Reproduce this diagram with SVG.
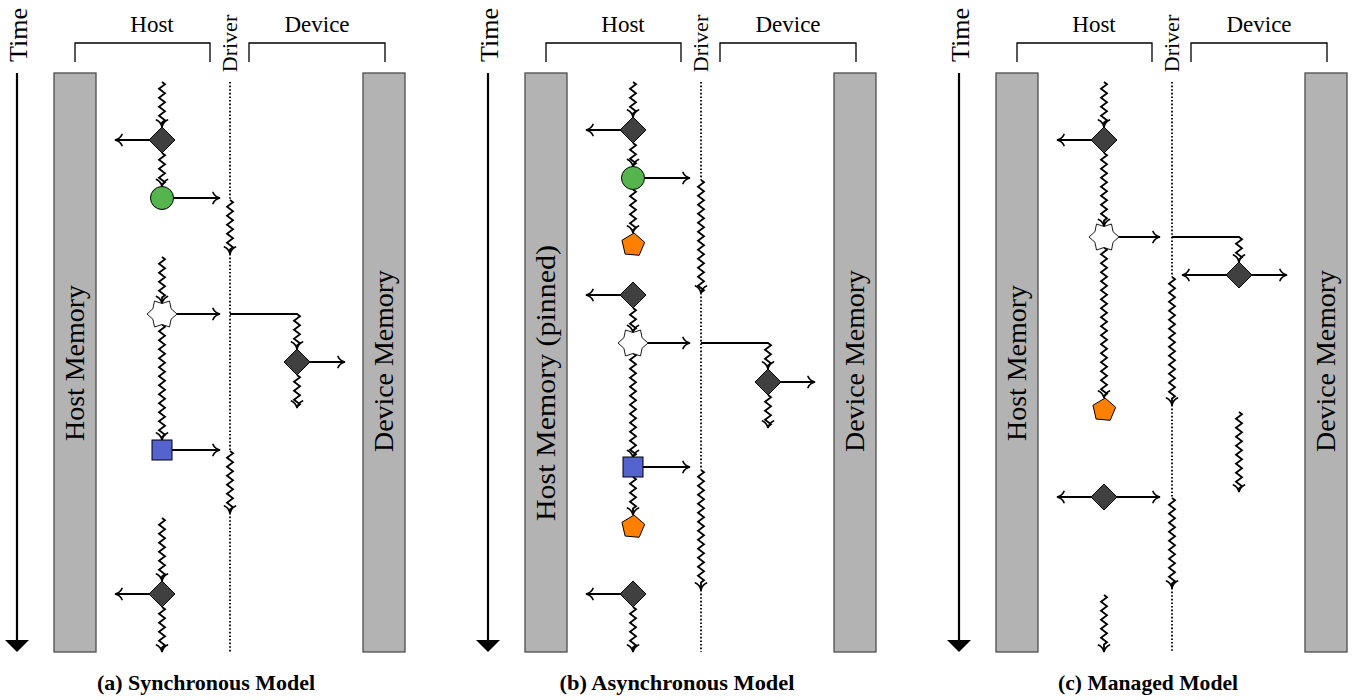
<svg xmlns="http://www.w3.org/2000/svg" xmlns:xlink="http://www.w3.org/1999/xlink" width="1355" height="700" viewBox="0 0 1355 700">
  <style>
    .lbl { font-family: "Liberation Serif", "Times New Roman", serif; fill: #000; }
    .cap { font-family: "Liberation Serif", "Times New Roman", serif; font-weight: bold; font-size: 21px; text-anchor: middle; fill: #000; }
    .mem { fill: #b3b3b3; stroke: #4d4d4d; stroke-width: 1.3; }
    .memtxt { font-size: 27px; text-anchor: middle; }
    .brk { fill: none; stroke: #000; stroke-width: 1.3; }
    .drv { fill: none; stroke: #000; stroke-width: 1.8; stroke-dasharray: 1.6 2; }
    .ar { fill: none; stroke: #000; stroke-width: 1.9; marker-end: url(#to); }
    .wv { fill: none; stroke: #000; stroke-width: 1.8; stroke-linejoin: miter; marker-end: url(#to); }
    .time { fill: none; stroke: #000; stroke-width: 2.2; }
  </style>
  <defs>
    <marker id="to" viewBox="-9 -8 11 16" refX="0" refY="0" markerWidth="11" markerHeight="16" markerUnits="userSpaceOnUse" orient="auto">
      <path d="M-7,-5.5 C-5.5,-2 -2.2,-0.5 0,0 C-2.2,0.5 -5.5,2 -7,5.5" fill="none" stroke="#000" stroke-width="1.7" stroke-linecap="round"/>
    </marker>
    <polygon id="dia" points="0,-13 13,0 0,13 -13,0" fill="#404040" stroke="#000" stroke-width="1"/>
    <polygon id="star" points="15,0 9.09,5.25 7.5,12.99 0,10.5 -7.5,12.99 -9.09,5.25 -15,0 -9.09,-5.25 -7.5,-12.99 0,-10.5 7.5,-12.99 9.09,-5.25" fill="#fff" stroke="#000" stroke-width="0.9"/>
    <polygon id="pent" points="1.05,-11.95 11.69,-2.7 6.18,10.29 -7.87,9.06 -11.05,-4.69" fill="#ff7f00" stroke="#000" stroke-width="1"/>
    <circle id="circ" r="11.5" fill="#55b44e" stroke="#000" stroke-width="1"/>
    <rect id="sq" x="-10" y="-10" width="20" height="20" fill="#5563cf" stroke="#000" stroke-width="1"/>
  </defs>

  <rect width="1355" height="700" fill="#fff"/>

  <!-- ===== frame: time axis, brackets, driver lanes ===== -->
  <g id="frame-a">
    <line class="time" x1="17" y1="73" x2="17" y2="641"/>
    <polygon points="5,640 29,640 17,652" fill="#000"/>
    <text class="lbl" font-size="26" text-anchor="middle" transform="translate(27,35) rotate(-90)">Time</text>
    <path class="brk" d="M75,62 V43 H210 V62"/>
    <path class="brk" d="M249,62 V43 H385 V62"/>
    <text class="lbl" font-size="23" x="152" y="32" text-anchor="middle">Host</text>
    <text class="lbl" font-size="23" x="317" y="32" text-anchor="middle">Device</text>
    <text class="lbl" font-size="22" text-anchor="middle" transform="translate(237,43.5) rotate(-90)">Driver</text>
    <path class="drv" d="M230,82 V200 M230,254 V451 M230,513 V652"/>
  </g>
  <g id="frame-b">
    <line class="time" x1="488" y1="73" x2="488" y2="641"/>
    <polygon points="476,640 500,640 488,652" fill="#000"/>
    <text class="lbl" font-size="26" text-anchor="middle" transform="translate(498,35) rotate(-90)">Time</text>
    <path class="brk" d="M546,62 V43 H681 V62"/>
    <path class="brk" d="M720,62 V43 H856 V62"/>
    <text class="lbl" font-size="23" x="623" y="32" text-anchor="middle">Host</text>
    <text class="lbl" font-size="23" x="788" y="32" text-anchor="middle">Device</text>
    <text class="lbl" font-size="22" text-anchor="middle" transform="translate(708,43.5) rotate(-90)">Driver</text>
    <path class="drv" d="M701,82 V180 M701,293 V470 M701,590 V652"/>
  </g>
  <g id="frame-c">
    <line class="time" x1="959" y1="73" x2="959" y2="641"/>
    <polygon points="947,640 971,640 959,652" fill="#000"/>
    <text class="lbl" font-size="26" text-anchor="middle" transform="translate(969,35) rotate(-90)">Time</text>
    <path class="brk" d="M1017,62 V43 H1152 V62"/>
    <path class="brk" d="M1191,62 V43 H1327 V62"/>
    <text class="lbl" font-size="23" x="1094" y="32" text-anchor="middle">Host</text>
    <text class="lbl" font-size="23" x="1259" y="32" text-anchor="middle">Device</text>
    <text class="lbl" font-size="22" text-anchor="middle" transform="translate(1179,43.5) rotate(-90)">Driver</text>
    <path class="drv" d="M1172,82 V277 M1172,405 V498 M1172,588 V652"/>
  </g>

  <!-- ===== memory nodes ===== -->
  <g id="host-mem-a">
    <rect class="mem" x="54" y="73" width="42" height="579"/>
    <text class="lbl memtxt" textLength="156" lengthAdjust="spacingAndGlyphs" transform="translate(84,363) rotate(-90)">Host Memory</text>
  </g>
  <g id="dev-mem-a">
    <rect class="mem" x="363" y="73" width="42" height="579"/>
    <text class="lbl memtxt" textLength="182" lengthAdjust="spacingAndGlyphs" transform="translate(393,361) rotate(-90)">Device Memory</text>
  </g>
  <g id="host-mem-b">
    <rect class="mem" x="525" y="73" width="42" height="579"/>
    <text class="lbl memtxt" textLength="276" lengthAdjust="spacingAndGlyphs" transform="translate(555,383) rotate(-90)">Host Memory (pinned)</text>
  </g>
  <g id="dev-mem-b">
    <rect class="mem" x="834" y="73" width="42" height="579"/>
    <text class="lbl memtxt" textLength="182" lengthAdjust="spacingAndGlyphs" transform="translate(864,361) rotate(-90)">Device Memory</text>
  </g>
  <g id="host-mem-c">
    <rect class="mem" x="996" y="73" width="42" height="579"/>
    <text class="lbl memtxt" textLength="156" lengthAdjust="spacingAndGlyphs" transform="translate(1026,363) rotate(-90)">Host Memory</text>
  </g>
  <g id="dev-mem-c">
    <rect class="mem" x="1305" y="73" width="42" height="579"/>
    <text class="lbl memtxt" textLength="182" lengthAdjust="spacingAndGlyphs" transform="translate(1335,361) rotate(-90)">Device Memory</text>
  </g>

  <!-- ===== connectors: calls (straight) and execution threads (zigzag) ===== -->
  <g id="connectors">
    <!-- synchronous -->
    <path class="ar" d="M149,140 H115"/>
    <path class="ar" d="M173.5,198 H220"/>
    <path class="ar" d="M177,314 H220"/>
    <path class="ar" d="M310,362 H345"/>
    <path class="ar" d="M172,450 H220"/>
    <path class="ar" d="M149,594 H115"/>
    <path class="wv" d="M162,82 l3,2.25 -6,4.5 6,4.5 -6,4.5 6,4.5 -6,4.5 6,4.5 -6,4.5 6,4.5 -3,2.25 V127"/>
    <path class="wv" d="M162,153 l3,2.25 -6,4.5 6,4.5 -6,4.5 6,4.5 -6,4.5 6,4.5 -3,2.25 V186.5"/>
    <path class="wv" d="M230,200 l3,2.25 -6,4.5 6,4.5 -6,4.5 6,4.5 -6,4.5 6,4.5 -6,4.5 6,4.5 -6,4.5 6,4.5 -3,2.25 V254"/>
    <path class="wv" d="M162,257 l3,2.25 -6,4.5 6,4.5 -6,4.5 6,4.5 -6,4.5 6,4.5 -6,4.5 6,4.5 -3,2.25 V303.5"/>
    <path class="wv" d="M162,324.5 l3,2.25 -6,4.5 6,4.5 -6,4.5 6,4.5 -6,4.5 6,4.5 -6,4.5 6,4.5 -6,4.5 6,4.5 -6,4.5 6,4.5 -6,4.5 6,4.5 -6,4.5 6,4.5 -6,4.5 6,4.5 -6,4.5 6,4.5 -6,4.5 6,4.5 -6,4.5 6,4.5 -3,2.25 V440"/>
    <path class="wv" d="M230,314 H297 l3,2.25 -6,4.5 6,4.5 -6,4.5 6,4.5 -6,4.5 6,4.5 -3,2.25 V349"/>
    <path class="wv" d="M297,375 l3,2.25 -6,4.5 6,4.5 -6,4.5 6,4.5 -6,4.5 6,4.5 -3,2.25 V408"/>
    <path class="wv" d="M230,451 l3,2.25 -6,4.5 6,4.5 -6,4.5 6,4.5 -6,4.5 6,4.5 -6,4.5 6,4.5 -6,4.5 6,4.5 -6,4.5 6,4.5 -3,2.25 V513"/>
    <path class="wv" d="M162,518 l3,2.25 -6,4.5 6,4.5 -6,4.5 6,4.5 -6,4.5 6,4.5 -6,4.5 6,4.5 -6,4.5 6,4.5 -6,4.5 6,4.5 -3,2.25 V581"/>
    <path class="wv" d="M162,607 l3,2.25 -6,4.5 6,4.5 -6,4.5 6,4.5 -6,4.5 6,4.5 -6,4.5 6,4.5 -3,2.25 V652"/>

    <!-- asynchronous -->
    <path class="ar" d="M620,130 H586"/>
    <path class="ar" d="M644.5,178 H690"/>
    <path class="ar" d="M620,295 H586"/>
    <path class="ar" d="M648,343 H690"/>
    <path class="ar" d="M781,382 H815"/>
    <path class="ar" d="M643,467 H690"/>
    <path class="ar" d="M620,594 H586"/>
    <path class="wv" d="M633,82 l3,2.25 -6,4.5 6,4.5 -6,4.5 6,4.5 -6,4.5 6,4.5 -3,2.25 V117"/>
    <path class="wv" d="M633,143 l3,2.25 -6,4.5 6,4.5 -6,4.5 6,4.5 -3,2.25 V166.5"/>
    <path class="wv" d="M701,180 l3,2.25 -6,4.5 6,4.5 -6,4.5 6,4.5 -6,4.5 6,4.5 -6,4.5 6,4.5 -6,4.5 6,4.5 -6,4.5 6,4.5 -6,4.5 6,4.5 -6,4.5 6,4.5 -6,4.5 6,4.5 -6,4.5 6,4.5 -6,4.5 6,4.5 -6,4.5 6,4.5 -3,2.25 V293"/>
    <path class="wv" d="M633,189.5 l3,2.25 -6,4.5 6,4.5 -6,4.5 6,4.5 -6,4.5 6,4.5 -6,4.5 6,4.5 -3,2.25 V233"/>
    <path class="wv" d="M633,308 l3,2.25 -6,4.5 6,4.5 -6,4.5 6,4.5 -3,2.25 V332.5"/>
    <path class="wv" d="M701,343 H768 l3,2.25 -6,4.5 6,4.5 -6,4.5 6,4.5 -3,2.25 V369"/>
    <path class="wv" d="M768,395 l3,2.25 -6,4.5 6,4.5 -6,4.5 6,4.5 -6,4.5 6,4.5 -3,2.25 V428"/>
    <path class="wv" d="M633,353 l3,2.25 -6,4.5 6,4.5 -6,4.5 6,4.5 -6,4.5 6,4.5 -6,4.5 6,4.5 -6,4.5 6,4.5 -6,4.5 6,4.5 -6,4.5 6,4.5 -6,4.5 6,4.5 -6,4.5 6,4.5 -6,4.5 6,4.5 -6,4.5 6,4.5 -3,2.25 V457.5"/>
    <path class="wv" d="M701,470 l3,2.25 -6,4.5 6,4.5 -6,4.5 6,4.5 -6,4.5 6,4.5 -6,4.5 6,4.5 -6,4.5 6,4.5 -6,4.5 6,4.5 -6,4.5 6,4.5 -6,4.5 6,4.5 -6,4.5 6,4.5 -6,4.5 6,4.5 -6,4.5 6,4.5 -6,4.5 6,4.5 -3,2.25 V590"/>
    <path class="wv" d="M633,477 l3,2.25 -6,4.5 6,4.5 -6,4.5 6,4.5 -6,4.5 6,4.5 -3,2.25 V515"/>
    <path class="wv" d="M633,607 l3,2.25 -6,4.5 6,4.5 -6,4.5 6,4.5 -6,4.5 6,4.5 -6,4.5 6,4.5 -3,2.25 V652"/>

    <!-- managed -->
    <path class="ar" d="M1091,140 H1057"/>
    <path class="ar" d="M1119,237 H1160"/>
    <path class="ar" d="M1226,275 H1182"/>
    <path class="ar" d="M1252,275 H1287"/>
    <path class="ar" d="M1091,497 H1057"/>
    <path class="ar" d="M1117,497 H1160"/>
    <path class="wv" d="M1104,82 l3,2.25 -6,4.5 6,4.5 -6,4.5 6,4.5 -6,4.5 6,4.5 -6,4.5 6,4.5 -3,2.25 V127"/>
    <path class="wv" d="M1104,153 l3,2.25 -6,4.5 6,4.5 -6,4.5 6,4.5 -6,4.5 6,4.5 -6,4.5 6,4.5 -6,4.5 6,4.5 -6,4.5 6,4.5 -6,4.5 6,4.5 -3,2.25 V226.5"/>
    <path class="wv" d="M1172,237 H1239 l3,2.25 -6,4.5 6,4.5 -6,4.5 6,4.5 -3,2.25 V262"/>
    <path class="wv" d="M1172,277 l3,2.25 -6,4.5 6,4.5 -6,4.5 6,4.5 -6,4.5 6,4.5 -6,4.5 6,4.5 -6,4.5 6,4.5 -6,4.5 6,4.5 -6,4.5 6,4.5 -6,4.5 6,4.5 -6,4.5 6,4.5 -6,4.5 6,4.5 -6,4.5 6,4.5 -6,4.5 6,4.5 -6,4.5 6,4.5 -3,2.25 V405"/>
    <path class="wv" d="M1104,247.5 l3,2.25 -6,4.5 6,4.5 -6,4.5 6,4.5 -6,4.5 6,4.5 -6,4.5 6,4.5 -6,4.5 6,4.5 -6,4.5 6,4.5 -6,4.5 6,4.5 -6,4.5 6,4.5 -6,4.5 6,4.5 -6,4.5 6,4.5 -6,4.5 6,4.5 -6,4.5 6,4.5 -6,4.5 6,4.5 -6,4.5 6,4.5 -6,4.5 6,4.5 -6,4.5 6,4.5 -3,2.25 V398"/>
    <path class="wv" d="M1239,412 l3,2.25 -6,4.5 6,4.5 -6,4.5 6,4.5 -6,4.5 6,4.5 -6,4.5 6,4.5 -6,4.5 6,4.5 -6,4.5 6,4.5 -6,4.5 6,4.5 -6,4.5 6,4.5 -3,2.25 V492"/>
    <path class="wv" d="M1172,498 l3,2.25 -6,4.5 6,4.5 -6,4.5 6,4.5 -6,4.5 6,4.5 -6,4.5 6,4.5 -6,4.5 6,4.5 -6,4.5 6,4.5 -6,4.5 6,4.5 -6,4.5 6,4.5 -6,4.5 6,4.5 -3,2.25 V588"/>
    <path class="wv" d="M1104,595 l3,2.25 -6,4.5 6,4.5 -6,4.5 6,4.5 -6,4.5 6,4.5 -6,4.5 6,4.5 -6,4.5 6,4.5 -3,2.25 V652"/>
  </g>

  <!-- ===== operation nodes ===== -->
  <g id="a-alloc"><use xlink:href="#dia" x="162" y="140"/></g>
  <g id="a-copy-in"><use xlink:href="#circ" x="162" y="198"/></g>
  <g id="a-launch"><use xlink:href="#star" x="162" y="314"/></g>
  <g id="a-kernel"><use xlink:href="#dia" x="297" y="362"/></g>
  <g id="a-copy-out"><use xlink:href="#sq" x="162" y="450"/></g>
  <g id="a-free"><use xlink:href="#dia" x="162" y="594"/></g>

  <g id="b-alloc"><use xlink:href="#dia" x="633" y="130"/></g>
  <g id="b-copy-in"><use xlink:href="#circ" x="633" y="178"/></g>
  <g id="b-sync-1"><use xlink:href="#pent" x="633" y="245"/></g>
  <g id="b-alloc-2"><use xlink:href="#dia" x="633" y="295"/></g>
  <g id="b-launch"><use xlink:href="#star" x="633" y="343"/></g>
  <g id="b-kernel"><use xlink:href="#dia" x="768" y="382"/></g>
  <g id="b-copy-out"><use xlink:href="#sq" x="633" y="467"/></g>
  <g id="b-sync-2"><use xlink:href="#pent" x="633" y="527"/></g>
  <g id="b-free"><use xlink:href="#dia" x="633" y="594"/></g>

  <g id="c-alloc"><use xlink:href="#dia" x="1104" y="140"/></g>
  <g id="c-launch"><use xlink:href="#star" x="1104" y="237"/></g>
  <g id="c-kernel"><use xlink:href="#dia" x="1239" y="275"/></g>
  <g id="c-sync"><use xlink:href="#pent" x="1104" y="410"/></g>
  <g id="c-free"><use xlink:href="#dia" x="1104" y="497"/></g>

  <!-- ===== captions ===== -->
  <text class="cap" x="206" y="690" textLength="218" lengthAdjust="spacingAndGlyphs">(a) Synchronous Model</text>
  <text class="cap" x="677" y="690" textLength="235" lengthAdjust="spacingAndGlyphs">(b) Asynchronous Model</text>
  <text class="cap" x="1148" y="690" textLength="180" lengthAdjust="spacingAndGlyphs">(c) Managed Model</text>
</svg>
